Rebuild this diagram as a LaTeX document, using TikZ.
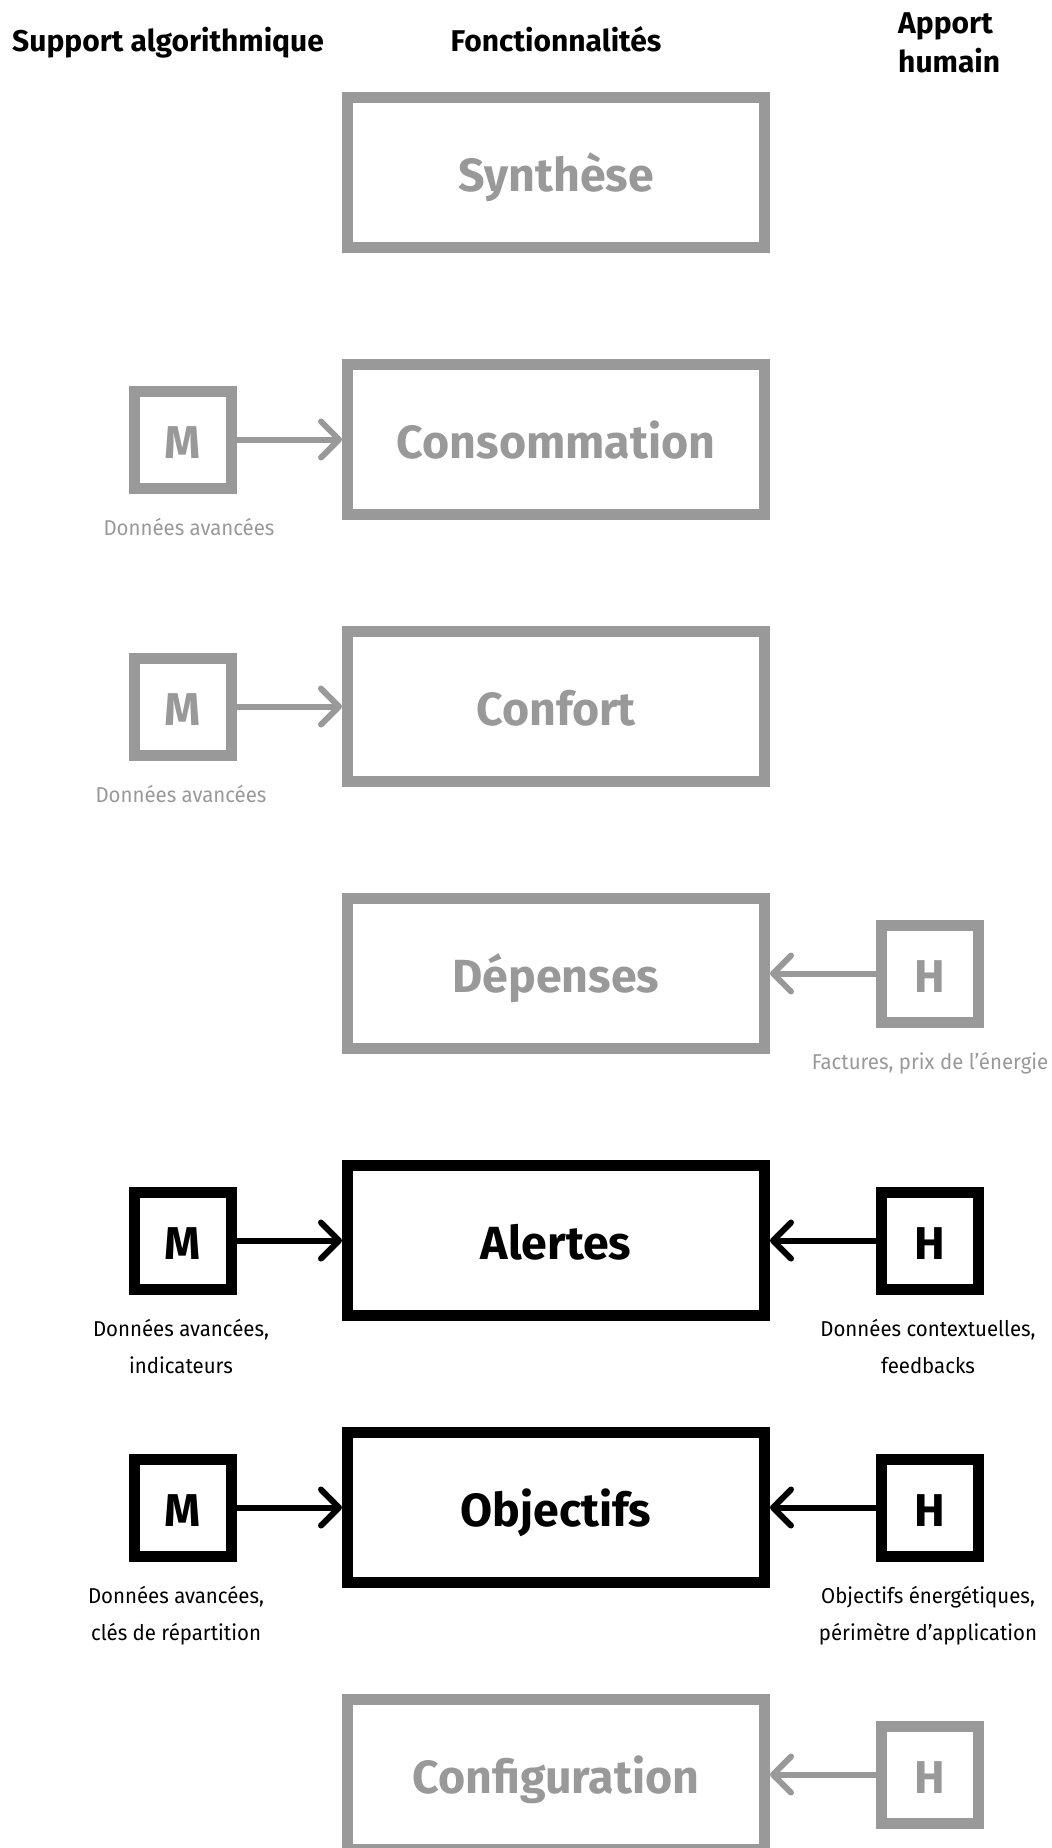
\documentclass[tikz,border=0pt]{standalone}
\usepackage{fontspec}
\setmainfont{Fira Sans}
\newfontfamily\labfont{Fira Sans}[FakeStretch=0.95]
\usetikzlibrary{arrows.meta}
\definecolor{grey}{RGB}{153,153,153}
\begin{document}
\begin{tikzpicture}[x=1pt,y=-1pt,
  fbox/.style={draw, line width=11pt, minimum width=417pt, minimum height=150pt, inner sep=0pt,
    text height=37pt, text depth=0pt,
    font=\fontsize{46.5}{54}\selectfont\bfseries},
  sbox/.style={draw, line width=11pt, minimum width=97pt, minimum height=97pt, inner sep=0pt,
    text height=37pt, text depth=0pt,
    font=\fontsize{46}{54}\selectfont\bfseries},
  lite/.style={draw=grey, text=grey},
  dark/.style={draw=black, text=black},
  sublab/.style={anchor=base, inner sep=0pt, font=\labfont\fontsize{21.5}{37}\selectfont},
  hdr/.style={anchor=base, inner sep=0pt, font=\fontsize{30}{39}\selectfont\bfseries},
  conn/.style={line width=6pt, -{Straight Barb[length=18pt,width=36pt,round]}}
]
\useasboundingbox (0,0) rectangle (1052,1848);
% headers
\node[hdr, anchor=base west] (h1) at (12,51) {Support algorithmique};
\node[hdr] (h2) at (556,51) {Fonctionnalités};
\node[hdr, anchor=base west] (h3a) at (898,33) {Apport};
\node[hdr, anchor=base west] (h3b) at (898,72) {humain};
% main boxes
\node[fbox, lite] (b1) at (556,172.5) {Synthèse};
\node[fbox, lite] (b2) at (556,439.5) {Consommation};
\node[fbox, lite] (b3) at (556,706.5) {Confort};
\node[fbox, lite] (b4) at (556,973.5) {Dépenses};
\node[fbox, dark] (b5) at (556,1240.5) {Alertes};
\node[fbox, dark] (b6) at (556,1507.5) {Objectifs};
\node[fbox, lite] (b7) at (556,1774.5) {Configuration};
% M boxes
\node[sbox, lite] (m2) at (183,439.5) {M};
\node[sbox, lite] (m3) at (183,706.5) {M};
\node[sbox, dark] (m5) at (183,1240.5) {M};
\node[sbox, dark] (m6) at (183,1507.5) {M};
% H boxes
\node[sbox, lite] (hh4) at (930,973.5) {H};
\node[sbox, dark] (hh5) at (930,1240.5) {H};
\node[sbox, dark] (hh6) at (930,1507.5) {H};
\node[sbox, lite] (hh7) at (930,1774.5) {H};
% connectors
\draw[conn, grey] (m2) -- (b2);
\draw[conn, grey] (m3) -- (b3);
\draw[conn, black] (m5) -- (b5);
\draw[conn, black] (m6) -- (b6);
\draw[conn, grey] (hh4) -- (b4);
\draw[conn, black] (hh5) -- (b5);
\draw[conn, black] (hh6) -- (b6);
\draw[conn, grey] (hh7) -- (b7);
% labels
\node[sublab, text=grey] (l2) at (189,535) {Données avancées};
\node[sublab, text=grey] (l3) at (181,802) {Données avancées};
\node[sublab, text=grey] (r4) at (930,1069) {Factures, prix de l’énergie};
\node[sublab] (l5a) at (181,1336) {Données avancées,};
\node[sublab] (l5b) at (181,1373) {indicateurs};
\node[sublab] (r5a) at (928,1336) {Données contextuelles,};
\node[sublab] (r5b) at (928,1373) {feedbacks};
\node[sublab] (l6a) at (176,1603) {Données avancées,};
\node[sublab] (l6b) at (176,1640) {clés de répartition};
\node[sublab] (r6a) at (928,1603) {Objectifs énergétiques,};
\node[sublab] (r6b) at (928,1640) {périmètre d’application};
\end{tikzpicture}
\end{document}
